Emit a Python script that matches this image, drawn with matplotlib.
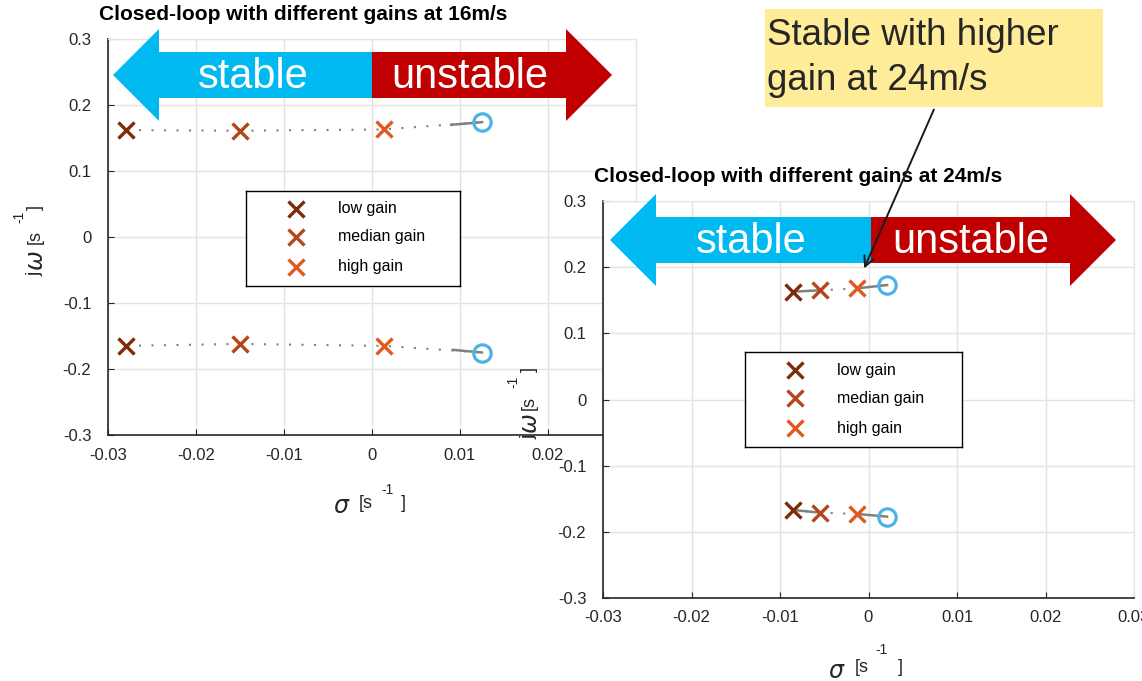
import numpy as np
import matplotlib
matplotlib.use('Agg')
import matplotlib.pyplot as plt
from matplotlib import transforms
from matplotlib.patches import Polygon, Rectangle, FancyArrowPatch

plt.rcParams['font.family'] = ['Liberation Sans', 'DejaVu Sans']

# closed-loop poles for the three gains (upper / lower branch)
gain_labels = ['low gain', 'median gain', 'high gain']
gain_colors = ['#7D2C0B', '#B4461B', '#E05A1F']

sigma_16 = [-0.0279, -0.0150, 0.0014]
omega_16_up = [0.162, 0.161, 0.163]
omega_16_dn = [-0.165, -0.162, -0.165]
sigma_24 = [-0.0085, -0.0055, -0.0013]
omega_24_up = [0.163, 0.165, 0.168]
omega_24_dn = [-0.167, -0.171, -0.173]

# open-loop poles
ol_sigma_16 = 0.0125
ol_omega_16 = [0.174, -0.175]
ol_sigma_24 = 0.0021
ol_omega_24 = [0.173, -0.177]

# stretches of the locus where the gain samples are dense (drawn solid)
solid_16 = [([0.0090, 0.0125], [0.170, 0.174]), ([0.0092, 0.0125], [-0.171, -0.175])]
solid_24 = [([-0.0085, -0.0055], [0.163, 0.165]), ([-0.0013, 0.0021], [0.168, 0.173]),
            ([-0.0085, -0.0055], [-0.167, -0.171]), ([-0.0013, 0.0021], [-0.173, -0.177])]

xticks = [-0.03, -0.02, -0.01, 0, 0.01, 0.02, 0.03]
xtick_labels = ['-0.03', '-0.02', '-0.01', '0', '0.01', '0.02', '0.03']
yticks = [-0.3, -0.2, -0.1, 0, 0.1, 0.2, 0.3]
ytick_labels = ['-0.3', '-0.2', '-0.1', '0', '0.1', '0.2', '0.3']

W, H = 1142, 681
fig = plt.figure(figsize=(W / 100, H / 100), dpi=100)
fig.patch.set_facecolor('white')
# pixel coordinates, origin top-left
px = transforms.Affine2D().scale(1 / W, -1 / H).translate(0, 1) + fig.transFigure

dark = '#262626'
grid_c = '#e3e3e3'
locus_c = '#808080'


def rect(x0, y0, x1, y1):
    return [x0 / W, 1 - y1 / H, (x1 - x0) / W, (y1 - y0) / H]


def setup(ax):
    ax.set_xlim(-0.03, 0.03)
    ax.set_ylim(-0.3, 0.3)
    ax.set_xticks(xticks)
    ax.set_xticklabels(xtick_labels)
    ax.set_yticks(yticks)
    ax.set_yticklabels(ytick_labels)
    ax.grid(True, color=grid_c, lw=1)
    ax.set_axisbelow(True)
    for s in ['top', 'right']:
        ax.spines[s].set_color(grid_c)
    for s in ['left', 'bottom']:
        ax.spines[s].set_color(dark)
        ax.spines[s].set_linewidth(1.2)
    ax.tick_params(direction='in', length=4, width=0.8, color=dark,
                   labelcolor=dark, labelsize=12)
    ax.tick_params(axis='y', pad=12)
    ax.tick_params(axis='x', pad=9)


def poles(ax, sig, om_up, om_dn, ol_sig, ol_om, solid):
    for om, ol in zip([om_up, om_dn], ol_om):
        ax.plot(sig + [ol_sig], om + [ol], color=locus_c, lw=1.5,
                ls=(0, (1, 5)), zorder=2)
    for xs, ys in solid:
        ax.plot(xs, ys, color=locus_c, lw=1.8, zorder=2)
    for i in range(len(sig)):
        ax.plot([sig[i], sig[i]], [om_up[i], om_dn[i]], ls='none', marker='x',
                ms=11, mew=2.4, color=gain_colors[i], zorder=3)
    ax.plot([ol_sig, ol_sig], ol_om, ls='none', marker='o', ms=12.5, mew=2.3,
            mfc='none', mec='#4DB3E6', zorder=3)


def legend_box(x0, y0, x1, y1):
    lg = fig.add_axes(rect(x0, y0, x1, y1))
    lg.set_xlim(0, x1 - x0)
    lg.set_ylim(y1 - y0, 0)
    lg.set_xticks([])
    lg.set_yticks([])
    for s in lg.spines.values():
        s.set_color('black')
        s.set_linewidth(1.0)
    for i, (lab, row) in enumerate(zip(gain_labels, [18, 46, 76])):
        lg.plot(50, row, marker='x', ms=11, mew=2.4, color=gain_colors[i])
        lg.text(92, row, lab, fontsize=11.5, va='center', ha='left', color='black')


def stability_arrow(x_tip_l, x_split, x_tip_r, yc, label_l, label_r):
    head_len, head_h, body_h = 46, 92, 46
    left = [(x_tip_l, yc), (x_tip_l + head_len, yc - head_h / 2),
            (x_tip_l + head_len, yc - body_h / 2), (x_split, yc - body_h / 2),
            (x_split, yc + body_h / 2), (x_tip_l + head_len, yc + body_h / 2),
            (x_tip_l + head_len, yc + head_h / 2)]
    right = [(x_tip_r, yc), (x_tip_r - head_len, yc - head_h / 2),
             (x_tip_r - head_len, yc - body_h / 2), (x_split, yc - body_h / 2),
             (x_split, yc + body_h / 2), (x_tip_r - head_len, yc + body_h / 2),
             (x_tip_r - head_len, yc + head_h / 2)]
    fig.add_artist(Polygon(left, closed=True, transform=px, fc='#00B9F1', ec='none', zorder=5))
    fig.add_artist(Polygon(right, closed=True, transform=px, fc='#C00000', ec='none', zorder=5))
    fig.text(label_l, yc + 2, 'stable', transform=px, fontsize=30, color='white',
             ha='center', va='center', zorder=6)
    fig.text(label_r, yc + 2, 'unstable', transform=px, fontsize=30, color='white',
             ha='center', va='center', zorder=6)


def unit_label(pieces, rotation=0):
    for txt, x, y, size in pieces:
        fig.text(x, y, txt, transform=px, fontsize=size, rotation=rotation,
                 ha='center', va='center', color=dark, zorder=7)


# 16 m/s
ax1 = fig.add_axes(rect(108, 39, 636, 435))
setup(ax1)
poles(ax1, sigma_16, omega_16_up, omega_16_dn, ol_sigma_16, ol_omega_16, solid_16)

# 24 m/s, drawn on top of the first one
ax2 = fig.add_axes(rect(603, 201, 1134, 598))
setup(ax2)
poles(ax2, sigma_24, omega_24_up, omega_24_dn, ol_sigma_24, ol_omega_24, solid_24)

legend_box(246, 191, 460, 286)
legend_box(745, 352, 962, 447)

fig.text(99, 14, 'Closed-loop with different gains at 16m/s', transform=px,
         fontsize=15, fontweight='bold', ha='left', va='center')
fig.text(594, 176, 'Closed-loop with different gains at 24m/s', transform=px,
         fontsize=15, fontweight='bold', ha='left', va='center')

stability_arrow(113, 372, 612, 75, 253, 470)
stability_arrow(610, 871, 1116, 240, 751, 971)

unit_label([(r'$\sigma$', 342, 507, 17), ('[s', 366, 504, 13), ('-1', 388, 490, 10), (']', 403, 504, 13)])
unit_label([(r'$\sigma$', 837, 672, 17), ('[s', 862, 667, 13), ('-1', 882, 650, 10), (']', 900, 667, 13)])
unit_label([('j', 35, 274, 14), (r'$\omega$', 37, 261, 17), ('[s', 35, 237, 13),
            ('-1', 19, 217, 10), (']', 35, 207, 13)], rotation=90)
unit_label([('j', 529, 437, 14), (r'$\omega$', 531, 424, 17), ('[s', 529, 403, 13),
            ('-1', 513, 382, 10), (']', 529, 369, 13)], rotation=90)

# note box with pointer to the high-gain pole at 24 m/s
fig.add_artist(Rectangle((765, 9), 338, 98, transform=px, fc='#FFEC99', ec='none', zorder=8))
fig.text(767, 45, 'Stable with higher', transform=px, fontsize=26.5, color=dark,
         ha='left', va='baseline', zorder=9)
fig.text(767, 90, 'gain at 24m/s', transform=px, fontsize=26.5, color=dark,
         ha='left', va='baseline', zorder=9)
fig.add_artist(FancyArrowPatch((935, 107), (863, 271), transform=px, arrowstyle='->',
                               mutation_scale=18, lw=1.4, color='#1a1a1a', zorder=9))

fig.savefig('out.png', dpi=100)
